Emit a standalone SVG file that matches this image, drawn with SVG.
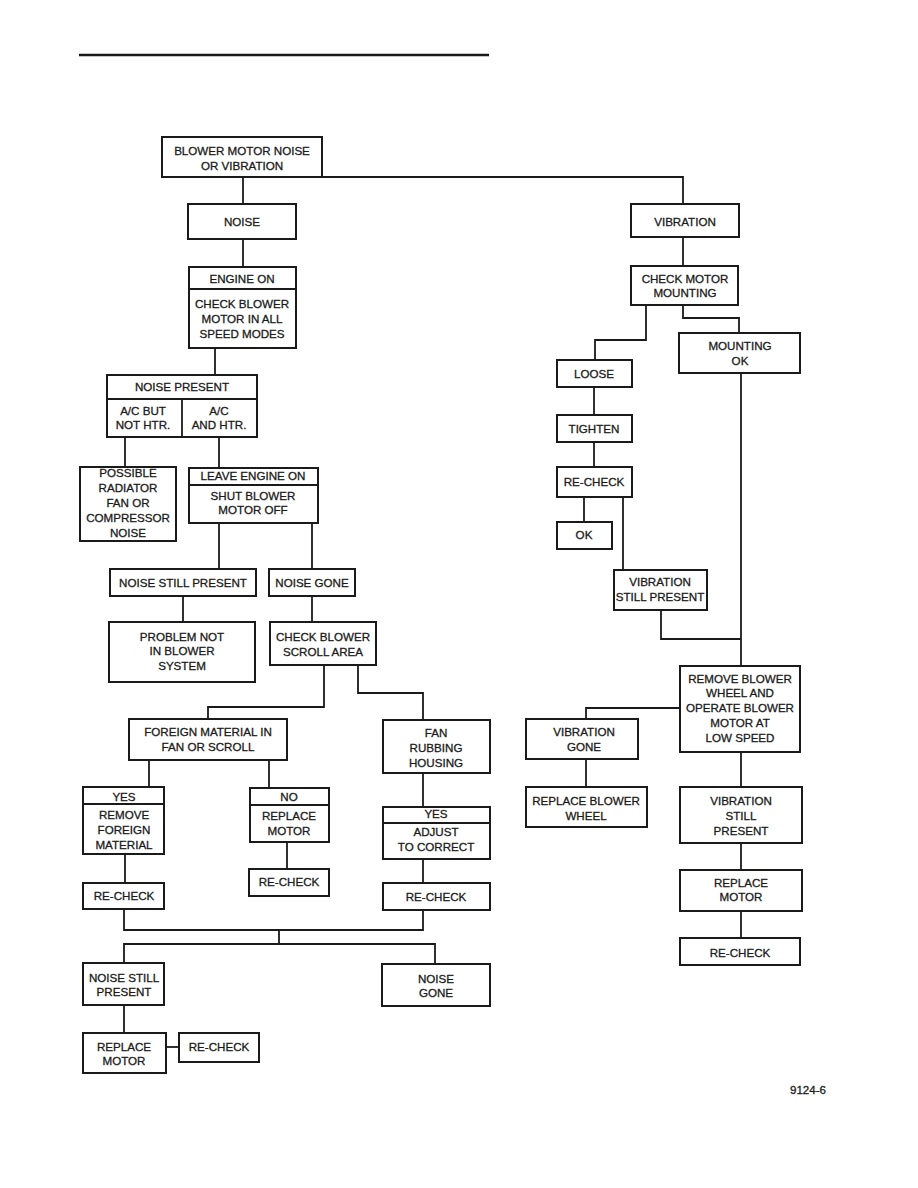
<svg xmlns="http://www.w3.org/2000/svg" width="918" height="1188" viewBox="0 0 918 1188">
<style>
rect{fill:#fff;stroke:#1a1a1a;stroke-width:2}
.d{stroke:#1a1a1a;stroke-width:1.8;fill:none}
text{font-family:"Liberation Sans",Arial,sans-serif;font-size:11.6px;fill:#1a1a1a;stroke:#1a1a1a;stroke-width:0.3;text-anchor:middle}
#connectors path{stroke:#1a1a1a;stroke-width:1.8;fill:none}
</style>
<line x1="79" y1="55" x2="489" y2="55" stroke="#1a1a1a" stroke-width="2.5"/>
<g id="connectors">
<path d="M243 177V204"/>
<path d="M322 177H683V204"/>
<path d="M243 239V267"/>
<path d="M683 237V266"/>
<path d="M646 305V340H595V360"/>
<path d="M683 305V318H739V333"/>
<path d="M594 387V415"/>
<path d="M594 442V467"/>
<path d="M584 497V522"/>
<path d="M623 497V570"/>
<path d="M661 610V639H741"/>
<path d="M741 373V666"/>
<path d="M680 708H586V719"/>
<path d="M586 759V787"/>
<path d="M741 752V787"/>
<path d="M741 843V870"/>
<path d="M741 911V938"/>
<path d="M215 348V375"/>
<path d="M125 437V467"/>
<path d="M219 437V468"/>
<path d="M219 523V569"/>
<path d="M312 523V569"/>
<path d="M183 596V622"/>
<path d="M312 596V622"/>
<path d="M324 665V707H208V719"/>
<path d="M358 665V693H423V720"/>
<path d="M149 760V787"/>
<path d="M269 760V788"/>
<path d="M287 842V869"/>
<path d="M125 854V883"/>
<path d="M423 773V807"/>
<path d="M423 859V883"/>
<path d="M124 909V930H423V910"/>
<path d="M279 930V944"/>
<path d="M124 963V944H435V964"/>
<path d="M124 1005V1033"/>
<path d="M166 1047H179"/>
</g>
<g id="n-start"><rect x="162" y="137" width="160" height="40"/><text x="242" y="155">BLOWER MOTOR NOISE</text><text x="242" y="170">OR VIBRATION</text></g>
<g id="n-noise"><rect x="188" y="204" width="108" height="35"/><text x="242" y="226">NOISE</text></g>
<g id="n-engine"><rect x="189" y="267" width="107" height="81"/><line class="d" x1="189" y1="289" x2="296" y2="289"/><text x="242" y="283">ENGINE ON</text><text x="242" y="308">CHECK BLOWER</text><text x="242" y="323">MOTOR IN ALL</text><text x="242" y="338">SPEED MODES</text></g>
<g id="n-vibration"><rect x="631" y="204" width="108" height="33"/><text x="685" y="226">VIBRATION</text></g>
<g id="n-checkmotor"><rect x="631" y="266" width="107" height="39"/><text x="685" y="283">CHECK MOTOR</text><text x="685" y="297">MOUNTING</text></g>
<g id="n-mountingok"><rect x="679" y="333" width="121" height="40"/><text x="740" y="350">MOUNTING</text><text x="740" y="365">OK</text></g>
<g id="n-loose"><rect x="557" y="360" width="75" height="27"/><text x="594" y="378">LOOSE</text></g>
<g id="n-tighten"><rect x="557" y="415" width="75" height="27"/><text x="594" y="433">TIGHTEN</text></g>
<g id="n-recheck-v1"><rect x="557" y="467" width="75" height="30"/><text x="594" y="486">RE-CHECK</text></g>
<g id="n-ok"><rect x="557" y="522" width="55" height="27"/><text x="584" y="539">OK</text></g>
<g id="n-vsp1"><rect x="614" y="570" width="93" height="40"/><text x="660" y="586">VIBRATION</text><text x="660" y="601">STILL PRESENT</text></g>
<g id="n-remove"><rect x="680" y="666" width="120" height="86"/><text x="740" y="683">REMOVE BLOWER</text><text x="740" y="697">WHEEL AND</text><text x="740" y="712">OPERATE BLOWER</text><text x="740" y="727">MOTOR AT</text><text x="740" y="742">LOW SPEED</text></g>
<g id="n-vgone"><rect x="526" y="719" width="112" height="40"/><text x="584" y="736">VIBRATION</text><text x="584" y="751">GONE</text></g>
<g id="n-rbw"><rect x="526" y="787" width="121" height="40"/><text x="586" y="805">REPLACE BLOWER</text><text x="586" y="820">WHEEL</text></g>
<g id="n-vsp2"><rect x="680" y="787" width="122" height="56"/><text x="741" y="805">VIBRATION</text><text x="741" y="820">STILL</text><text x="741" y="835">PRESENT</text></g>
<g id="n-rm2"><rect x="680" y="870" width="122" height="41"/><text x="741" y="887">REPLACE</text><text x="741" y="901">MOTOR</text></g>
<g id="n-rc2"><rect x="680" y="938" width="120" height="27"/><text x="740" y="957">RE-CHECK</text></g>
<g id="n-noisepresent"><rect x="107" y="375" width="150" height="62"/><line class="d" x1="107" y1="399" x2="257" y2="399"/><line class="d" x1="182" y1="399" x2="182" y2="437"/><text x="182" y="391">NOISE PRESENT</text><text x="143" y="415">A/C BUT</text><text x="143" y="429">NOT HTR.</text><text x="219" y="415">A/C</text><text x="219" y="429">AND HTR.</text></g>
<g id="n-possible"><rect x="80" y="467" width="96" height="74"/><text x="128" y="477">POSSIBLE</text><text x="128" y="492">RADIATOR</text><text x="128" y="507">FAN OR</text><text x="128" y="522">COMPRESSOR</text><text x="128" y="537">NOISE</text></g>
<g id="n-leave"><rect x="189" y="468" width="129" height="55"/><line class="d" x1="189" y1="485" x2="318" y2="485"/><text x="253" y="480">LEAVE ENGINE ON</text><text x="253" y="500">SHUT BLOWER</text><text x="253" y="514">MOTOR OFF</text></g>
<g id="n-nsp1"><rect x="110" y="569" width="146" height="27"/><text x="183" y="587">NOISE STILL PRESENT</text></g>
<g id="n-ng1"><rect x="269" y="569" width="86" height="27"/><text x="312" y="587">NOISE GONE</text></g>
<g id="n-problem"><rect x="109" y="622" width="146" height="60"/><text x="182" y="641">PROBLEM NOT</text><text x="182" y="655">IN BLOWER</text><text x="182" y="670">SYSTEM</text></g>
<g id="n-scroll"><rect x="270" y="622" width="106" height="43"/><text x="323" y="641">CHECK BLOWER</text><text x="323" y="656">SCROLL AREA</text></g>
<g id="n-foreign"><rect x="129" y="719" width="158" height="41"/><text x="208" y="736">FOREIGN MATERIAL IN</text><text x="208" y="751">FAN OR SCROLL</text></g>
<g id="n-fan"><rect x="383" y="720" width="107" height="53"/><text x="436" y="737">FAN</text><text x="436" y="752">RUBBING</text><text x="436" y="767">HOUSING</text></g>
<g id="n-yes1"><rect x="83" y="787" width="81" height="67"/><line class="d" x1="83" y1="804" x2="164" y2="804"/><text x="124" y="801">YES</text><text x="124" y="819">REMOVE</text><text x="124" y="834">FOREIGN</text><text x="124" y="849">MATERIAL</text></g>
<g id="n-no"><rect x="250" y="788" width="79" height="54"/><line class="d" x1="250" y1="805" x2="329" y2="805"/><text x="289" y="801">NO</text><text x="289" y="820">REPLACE</text><text x="289" y="835">MOTOR</text></g>
<g id="n-rc-no"><rect x="249" y="869" width="80" height="27"/><text x="289" y="886">RE-CHECK</text></g>
<g id="n-rc-yes1"><rect x="83" y="883" width="81" height="26"/><text x="124" y="900">RE-CHECK</text></g>
<g id="n-yes2"><rect x="383" y="807" width="107" height="52"/><line class="d" x1="383" y1="823" x2="490" y2="823"/><text x="436" y="818">YES</text><text x="436" y="836">ADJUST</text><text x="436" y="851">TO CORRECT</text></g>
<g id="n-rc-yes2"><rect x="383" y="883" width="107" height="27"/><text x="436" y="901">RE-CHECK</text></g>
<g id="n-nsp2"><rect x="83" y="963" width="81" height="42"/><text x="124" y="982">NOISE STILL</text><text x="124" y="996">PRESENT</text></g>
<g id="n-ng2"><rect x="382" y="964" width="108" height="42"/><text x="436" y="983">NOISE</text><text x="436" y="997">GONE</text></g>
<g id="n-rm3"><rect x="83" y="1033" width="83" height="40"/><text x="124" y="1051">REPLACE</text><text x="124" y="1065">MOTOR</text></g>
<g id="n-rc3"><rect x="179" y="1033" width="80" height="29"/><text x="219" y="1051">RE-CHECK</text></g>
<text x="808" y="1094">9124-6</text>
</svg>
